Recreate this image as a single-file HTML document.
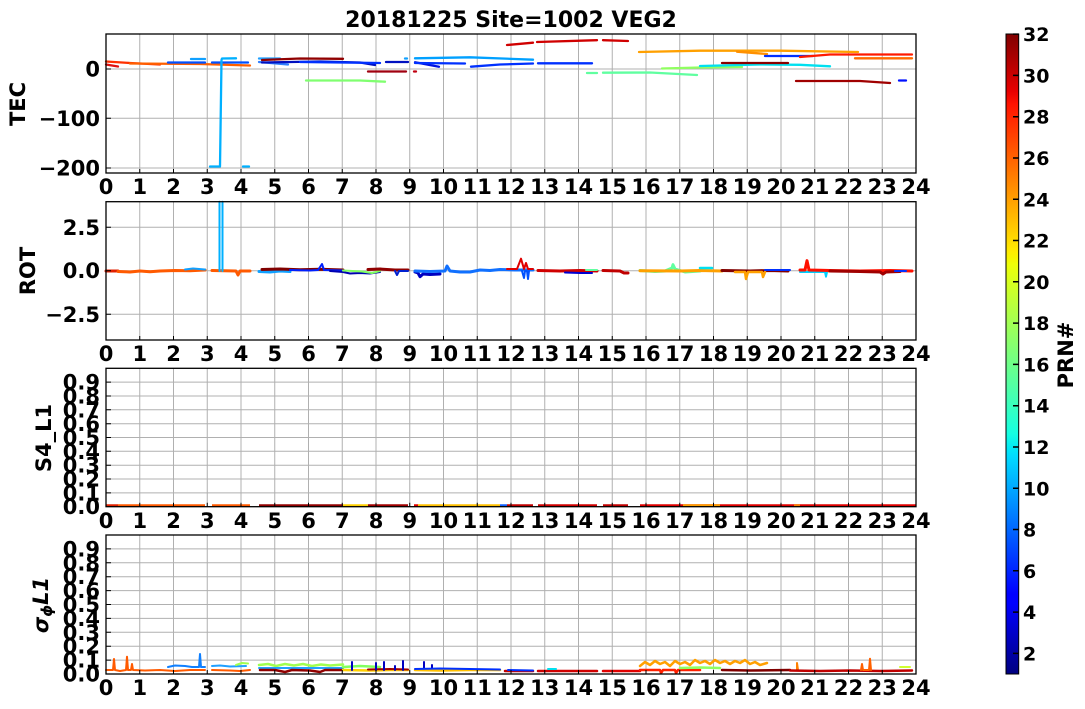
<!DOCTYPE html>
<html>
<head>
<meta charset="utf-8">
<style>
html,body{margin:0;padding:0;background:#fff;}
svg{display:block;}
text{font-family:"DejaVu Sans","Liberation Sans",sans-serif;font-weight:bold;fill:#000;}
</style>
</head>
<body>
<svg width="1085" height="709" viewBox="0 0 1085 709" xmlns="http://www.w3.org/2000/svg">
<defs>
<linearGradient id="jet" x1="0" y1="1" x2="0" y2="0">
<stop offset="0" stop-color="#000080"/>
<stop offset="0.11" stop-color="#0000ff"/>
<stop offset="0.125" stop-color="#0000ff"/>
<stop offset="0.34" stop-color="#00dbff"/>
<stop offset="0.35" stop-color="#00e6f8"/>
<stop offset="0.375" stop-color="#14ffe2"/>
<stop offset="0.64" stop-color="#eeff08"/>
<stop offset="0.65" stop-color="#f7f500"/>
<stop offset="0.66" stop-color="#ffec00"/>
<stop offset="0.89" stop-color="#ff1300"/>
<stop offset="0.91" stop-color="#e80000"/>
<stop offset="1" stop-color="#800000"/>
</linearGradient>
</defs>
<rect width="1085" height="709" fill="#fff"/>

<!-- Title -->
<text x="511" y="27" font-size="22" text-anchor="middle">20181225 Site=1002 VEG2</text>

<!-- ================= PANEL 1: TEC ================= -->
<g stroke="#b0b0b0" stroke-width="1">
<path d="M139.75,34V173M173.5,34V173M207.25,34V173M241,34V173M274.75,34V173M308.5,34V173M342.25,34V173M376,34V173M409.75,34V173M443.5,34V173M477.25,34V173M511,34V173M544.75,34V173M578.5,34V173M612.25,34V173M646,34V173M679.75,34V173M713.5,34V173M747.25,34V173M781,34V173M814.75,34V173M848.5,34V173M882.25,34V173"/>
<path d="M106,69H916M106,118.3H916M106,168H916"/>
</g>
<g fill="none" stroke-linecap="round" stroke-linejoin="round" stroke-width="2.3">
<polyline stroke="#ff3000" points="106,61.5 130,63 160,64.5"/>
<polyline stroke="#ff6000" points="130,63.5 200,64 250,65.5"/>
<polyline stroke="#e01010" points="106,64.5 118,66.5"/>
<polyline stroke="#0050ff" points="168,62.5 205,62.5"/>
<polyline stroke="#0050ff" points="212,62.5 248,62.5"/>
<polyline stroke="#10a0ff" points="191,59 205,59"/>
<polyline stroke="#00b0ff" points="210,166.5 220,166.5 221.5,60 222,58.5 236,58.3"/>
<polyline stroke="#00b0ff" points="243,166.5 249,166.5"/>
<polyline stroke="#20a0ff" points="259,58.5 280,58.5"/>
<polyline stroke="#3080ff" points="259,62 288,64.5"/>
<polyline stroke="#900000" points="262,60 300,58.5 343,58.8"/>
<polyline stroke="#0010c0" points="262,62.5 320,61.5 360,62.5 375,65"/>
<polyline stroke="#0030ff" points="300,62 340,62.5 380,63"/>
<polyline stroke="#0010c0" points="386,62 408,62"/>
<polyline stroke="#80ff70" points="306,80.5 360,80.5 385,81.7"/>
<polyline stroke="#a00010" points="368,71.5 406,71.5"/>
<polyline stroke="#c00010" points="414,71.5 416,71.5"/>
<polyline stroke="#10a0ff" points="405,58.5 407,58.5"/>
<polyline stroke="#00a0ff" points="415,58.3 470,57.3 533,59.7"/>
<polyline stroke="#0010e0" points="415,62.3 439,66.7"/>
<polyline stroke="#0030ff" points="415,63 465,63.5"/>
<polyline stroke="#0030ff" points="471,66.7 500,64.5 533,63.5"/>
<polyline stroke="#0030ff" points="538,63.3 592,63.3"/>
<polyline stroke="#d00000" points="507,45 533,42.7"/>
<polyline stroke="#d00000" points="537,42 597,40.2"/>
<polyline stroke="#d00000" points="603,40.2 628,41"/>
<polyline stroke="#60ffa0" points="587,73 597,73"/>
<polyline stroke="#60ffa0" points="603,72.7 650,72.5 697,75"/>
<polyline stroke="#90ff60" points="662,68.5 700,67.5 742,67"/>
<polyline stroke="#00e0f0" points="700,66 760,64.5 800,64.8 830,66.3"/>
<polyline stroke="#ffa000" points="639,52 700,50.7 780,50.7 858,52"/>
<polyline stroke="#ff9000" points="737,51.7 767,54"/>
<polyline stroke="#8a0000" points="722,63 788,63"/>
<polyline stroke="#0030ff" points="765,56 813,56"/>
<polyline stroke="#ff1a00" points="800,57 830,54.5 912,54.5"/>
<polyline stroke="#ff6a00" points="855,58.3 912,58.3"/>
<polyline stroke="#a00000" points="796,81 860,81 890,83"/>
<polyline stroke="#0010ff" points="899,80.5 906,80.5"/>
</g>
<g stroke="#000" stroke-width="1">
<path d="M139.75,173v-4M173.5,173v-4M207.25,173v-4M241,173v-4M274.75,173v-4M308.5,173v-4M342.25,173v-4M376,173v-4M409.75,173v-4M443.5,173v-4M477.25,173v-4M511,173v-4M544.75,173v-4M578.5,173v-4M612.25,173v-4M646,173v-4M679.75,173v-4M713.5,173v-4M747.25,173v-4M781,173v-4M814.75,173v-4M848.5,173v-4M882.25,173v-4"/>
<path d="M106,69h5M106,118.3h5M106,168h5"/>
</g>
<rect x="106" y="34" width="810" height="139" fill="none" stroke="#000" stroke-width="1.3"/>
<g font-size="21" text-anchor="end">
<text x="100" y="76.5">0</text>
<text x="100" y="125.8">−100</text>
<text x="100" y="175.5">−200</text>
</g>
<g font-size="21" text-anchor="middle">
<text x="106" y="194">0</text><text x="139.75" y="194">1</text><text x="173.5" y="194">2</text><text x="207.25" y="194">3</text><text x="241" y="194">4</text><text x="274.75" y="194">5</text><text x="308.5" y="194">6</text><text x="342.25" y="194">7</text><text x="376" y="194">8</text><text x="409.75" y="194">9</text><text x="443.5" y="194">10</text><text x="477.25" y="194">11</text><text x="511" y="194">12</text><text x="544.75" y="194">13</text><text x="578.5" y="194">14</text><text x="612.25" y="194">15</text><text x="646" y="194">16</text><text x="679.75" y="194">17</text><text x="713.5" y="194">18</text><text x="747.25" y="194">19</text><text x="781" y="194">20</text><text x="814.75" y="194">21</text><text x="848.5" y="194">22</text><text x="882.25" y="194">23</text><text x="916" y="194">24</text>
</g>
<text transform="translate(25,104) rotate(-90)" font-size="21" text-anchor="middle">TEC</text>

<!-- ================= PANEL 2: ROT ================= -->
<g stroke="#b0b0b0" stroke-width="1">
<path d="M139.75,201.7V340M173.5,201.7V340M207.25,201.7V340M241,201.7V340M274.75,201.7V340M308.5,201.7V340M342.25,201.7V340M376,201.7V340M409.75,201.7V340M443.5,201.7V340M477.25,201.7V340M511,201.7V340M544.75,201.7V340M578.5,201.7V340M612.25,201.7V340M646,201.7V340M679.75,201.7V340M713.5,201.7V340M747.25,201.7V340M781,201.7V340M814.75,201.7V340M848.5,201.7V340M882.25,201.7V340"/>
<path d="M106,227.3H916M106,270.7H916M106,314.3H916"/>
</g>
<g fill="none" stroke-linecap="round" stroke-linejoin="round">
<polyline stroke="#e02000" stroke-width="3" points="106,271 118,271"/>
<polyline stroke="#ff5a00" stroke-width="3" points="118,271.5 130,272 140,271 150,271.8 160,271 175,270.5 190,270.8 205,270"/>
<polyline stroke="#10a0ff" stroke-width="2" points="185,269.5 193,268.5 205,269.5"/>
<polyline stroke="#ff5a00" stroke-width="3" points="212,270.5 236,271 238,275 240,271 250,271"/>
<polyline stroke="#00b0ff" stroke-width="2" points="219.5,271 219.5,201.7"/>
<polyline stroke="#00b0ff" stroke-width="2" points="222.5,271 222.5,201.7"/>
<polyline stroke="#10a0ff" stroke-width="3" points="259,271.5 270,272 280,271 290,271.5"/>
<polyline stroke="#800000" stroke-width="3" points="262,269.5 280,269 300,269.8 320,269.2 343,270"/>
<polyline stroke="#0020ff" stroke-width="2" points="290,270 310,270.5 318,270 322,264 324,270 343,270.5"/>
<polyline stroke="#0000b0" stroke-width="2" points="330,271 343,272 350,273.5 360,273 370,273.5 380,272"/>
<polyline stroke="#80ff60" stroke-width="2" points="343,270.5 362,271.5 372,273 380,271"/>
<polyline stroke="#900000" stroke-width="3" points="368,269.5 380,269 395,270 408,270"/>
<polyline stroke="#0020d0" stroke-width="2" points="395,271 397,275 399,271 408,271"/>
<polyline stroke="#0000c0" stroke-width="3" points="415,272 418,273 420,276.7 423,274 430,274.5 440,274"/>
<polyline stroke="#1070ff" stroke-width="3" points="415,271 430,271.5 445,271 447,266 450,271 460,272 470,272 480,270 490,270.5 500,269.5 515,270 533,270"/>
<polyline stroke="#0050ff" stroke-width="2" points="522,271 524,278 525,271 527,271 528,279 529,271"/>
<polyline stroke="#e00000" stroke-width="2" points="507,269 517,269 521,258.7 524,269 526,263 528,269 533,269"/>
<polyline stroke="#d00000" stroke-width="3" points="538,270.5 560,271 580,270.5 597,271"/>
<polyline stroke="#0000d0" stroke-width="2" points="565,272.5 580,273 592,273"/>
<polyline stroke="#60ffa0" stroke-width="2" points="586,270 597,270"/>
<polyline stroke="#c00000" stroke-width="3" points="603,270.5 620,271 624,273 628,273"/>
<polyline stroke="#60ffa0" stroke-width="3" points="640,270.5 655,271.5 665,271 672,268 673,264.7 675,269 685,272 700,271"/>
<polyline stroke="#ffa000" stroke-width="3" points="640,270.7 680,271 700,270.5 722,271"/>
<polyline stroke="#00e0f0" stroke-width="2.5" points="700,268 712,268"/>
<polyline stroke="#800000" stroke-width="3" points="722,270.5 750,271 770,270.5 788,271"/>
<polyline stroke="#ffa000" stroke-width="2.5" points="735,272 745,272 746,279 748,272 762,272 763,277 765,272"/>
<polyline stroke="#0030ff" stroke-width="2" points="765,270 790,270"/>
<polyline stroke="#ff8000" stroke-width="2" points="800,271.5 860,271.5"/>
<polyline stroke="#00d0ff" stroke-width="2" points="800,272 825,272 826,276.7 827,272"/>
<polyline stroke="#ff1000" stroke-width="3" points="800,270 805,270 807,260.7 809,270 830,270.5 860,271 890,270.5 912,271"/>
<polyline stroke="#a00000" stroke-width="3" points="830,271 860,271.5 880,272 883,274 886,272 900,271.5"/>
<polyline stroke="#0030ff" stroke-width="2" points="895,271 906,271"/>
</g>
<g stroke="#000" stroke-width="1">
<path d="M139.75,340v-4M173.5,340v-4M207.25,340v-4M241,340v-4M274.75,340v-4M308.5,340v-4M342.25,340v-4M376,340v-4M409.75,340v-4M443.5,340v-4M477.25,340v-4M511,340v-4M544.75,340v-4M578.5,340v-4M612.25,340v-4M646,340v-4M679.75,340v-4M713.5,340v-4M747.25,340v-4M781,340v-4M814.75,340v-4M848.5,340v-4M882.25,340v-4"/>
<path d="M106,227.3h5M106,270.7h5M106,314.3h5"/>
</g>
<rect x="106" y="201.7" width="810" height="138.3" fill="none" stroke="#000" stroke-width="1.3"/>
<g font-size="21" text-anchor="end">
<text x="100" y="234.8">2.5</text>
<text x="100" y="278.2">0.0</text>
<text x="100" y="321.8">−2.5</text>
</g>
<g font-size="21" text-anchor="middle">
<text x="106" y="361">0</text><text x="139.75" y="361">1</text><text x="173.5" y="361">2</text><text x="207.25" y="361">3</text><text x="241" y="361">4</text><text x="274.75" y="361">5</text><text x="308.5" y="361">6</text><text x="342.25" y="361">7</text><text x="376" y="361">8</text><text x="409.75" y="361">9</text><text x="443.5" y="361">10</text><text x="477.25" y="361">11</text><text x="511" y="361">12</text><text x="544.75" y="361">13</text><text x="578.5" y="361">14</text><text x="612.25" y="361">15</text><text x="646" y="361">16</text><text x="679.75" y="361">17</text><text x="713.5" y="361">18</text><text x="747.25" y="361">19</text><text x="781" y="361">20</text><text x="814.75" y="361">21</text><text x="848.5" y="361">22</text><text x="882.25" y="361">23</text><text x="916" y="361">24</text>
</g>
<text transform="translate(35,271) rotate(-90)" font-size="21" text-anchor="middle">ROT</text>

<!-- ================= PANEL 3: S4_L1 ================= -->
<g stroke="#b0b0b0" stroke-width="1">
<path d="M139.75,368.3V506.7M173.5,368.3V506.7M207.25,368.3V506.7M241,368.3V506.7M274.75,368.3V506.7M308.5,368.3V506.7M342.25,368.3V506.7M376,368.3V506.7M409.75,368.3V506.7M443.5,368.3V506.7M477.25,368.3V506.7M511,368.3V506.7M544.75,368.3V506.7M578.5,368.3V506.7M612.25,368.3V506.7M646,368.3V506.7M679.75,368.3V506.7M713.5,368.3V506.7M747.25,368.3V506.7M781,368.3V506.7M814.75,368.3V506.7M848.5,368.3V506.7M882.25,368.3V506.7"/>
<path d="M106,492.9H916M106,479H916M106,465.2H916M106,451.3H916M106,437.5H916M106,423.7H916M106,409.8H916M106,396H916M106,382.1H916"/>
</g>
<g fill="none" stroke-width="2.5">
<path stroke="#e02000" d="M106,505.5H118"/>
<path stroke="#ff5a00" d="M118,505.5H205M212,505.5H250"/>
<path stroke="#900000" d="M259,505.5H343"/>
<path stroke="#ffd000" d="M343,505.5H368"/>
<path stroke="#a00000" d="M368,505.5H408"/>
<path stroke="#e00000" d="M414,505.5H418"/>
<path stroke="#ffc000" d="M418,505.5H500"/>
<path stroke="#1060ff" d="M500,505.5H507"/>
<path stroke="#c00000" d="M507,505.5H533"/>
<path stroke="#d00000" d="M538,505.5H597"/>
<path stroke="#c00000" d="M603,505.5H628"/>
<path stroke="#e00000" d="M640,505.5H916"/>
<path stroke="#ffa000" d="M683,505.5H720"/>
<path stroke="#ff8000" d="M794,505.5H800"/>
</g>
<g stroke="#000" stroke-width="1">
<path d="M139.75,506.7v-4M173.5,506.7v-4M207.25,506.7v-4M241,506.7v-4M274.75,506.7v-4M308.5,506.7v-4M342.25,506.7v-4M376,506.7v-4M409.75,506.7v-4M443.5,506.7v-4M477.25,506.7v-4M511,506.7v-4M544.75,506.7v-4M578.5,506.7v-4M612.25,506.7v-4M646,506.7v-4M679.75,506.7v-4M713.5,506.7v-4M747.25,506.7v-4M781,506.7v-4M814.75,506.7v-4M848.5,506.7v-4M882.25,506.7v-4"/>
<path d="M106,492.9h5M106,479h5M106,465.2h5M106,451.3h5M106,437.5h5M106,423.7h5M106,409.8h5M106,396h5M106,382.1h5"/>
</g>
<rect x="106" y="368.3" width="810" height="138.4" fill="none" stroke="#000" stroke-width="1.3"/>
<g font-size="21" text-anchor="end">
<text x="100" y="514.2">0.0</text>
<text x="100" y="500.4">0.1</text>
<text x="100" y="486.5">0.2</text>
<text x="100" y="472.7">0.3</text>
<text x="100" y="458.8">0.4</text>
<text x="100" y="445">0.5</text>
<text x="100" y="431.2">0.6</text>
<text x="100" y="417.3">0.7</text>
<text x="100" y="403.5">0.8</text>
<text x="100" y="389.6">0.9</text>
</g>
<g font-size="21" text-anchor="middle">
<text x="106" y="528">0</text><text x="139.75" y="528">1</text><text x="173.5" y="528">2</text><text x="207.25" y="528">3</text><text x="241" y="528">4</text><text x="274.75" y="528">5</text><text x="308.5" y="528">6</text><text x="342.25" y="528">7</text><text x="376" y="528">8</text><text x="409.75" y="528">9</text><text x="443.5" y="528">10</text><text x="477.25" y="528">11</text><text x="511" y="528">12</text><text x="544.75" y="528">13</text><text x="578.5" y="528">14</text><text x="612.25" y="528">15</text><text x="646" y="528">16</text><text x="679.75" y="528">17</text><text x="713.5" y="528">18</text><text x="747.25" y="528">19</text><text x="781" y="528">20</text><text x="814.75" y="528">21</text><text x="848.5" y="528">22</text><text x="882.25" y="528">23</text><text x="916" y="528">24</text>
</g>
<text transform="translate(51,438) rotate(-90)" font-size="21" text-anchor="middle">S4_L1</text>

<!-- ================= PANEL 4: sigma_phi L1 ================= -->
<g stroke="#b0b0b0" stroke-width="1">
<path d="M139.75,535V674M173.5,535V674M207.25,535V674M241,535V674M274.75,535V674M308.5,535V674M342.25,535V674M376,535V674M409.75,535V674M443.5,535V674M477.25,535V674M511,535V674M544.75,535V674M578.5,535V674M612.25,535V674M646,535V674M679.75,535V674M713.5,535V674M747.25,535V674M781,535V674M814.75,535V674M848.5,535V674M882.25,535V674"/>
<path d="M106,660.1H916M106,646.2H916M106,632.3H916M106,618.4H916M106,604.5H916M106,590.6H916M106,576.7H916M106,562.8H916M106,548.9H916"/>
</g>
<g fill="none" stroke-linecap="round" stroke-linejoin="round" stroke-width="2">
<polyline stroke="#1080ff" points="168,667 175,665.5 185,666 192,667 199,667 200,654 201,667 205,667"/>
<polyline stroke="#ff5a00" points="106,670 113,670 114,659 115,670 120,671 126,670 127,656.7 128,670 131,670 132,664 133,670 145,670.5 160,670 175,671 190,670 205,670"/>
<polyline stroke="#20a0ff" points="212,666 220,665.5 230,666.5 246,666"/>
<polyline stroke="#a0ff50" points="236,665 242,663 248,663.5"/>
<polyline stroke="#ff5a00" points="212,670 230,670.5 240,671 250,670"/>
<polyline stroke="#a0ff50" stroke-width="2.5" points="259,665 268,664 276,666 285,664 294,665.5 303,664 312,666 321,664.5 330,665.5 343,664.5"/>
<polyline stroke="#20a0ff" points="259,668 300,668 343,668"/>
<polyline stroke="#900000" stroke-width="2.5" points="260,670 275,670 285,672 292,670 310,670.5 320,672 325,670 343,670"/>
<polyline stroke="#80ff60" stroke-width="2.5" points="343,667 360,666 380,667"/>
<polyline stroke="#ffd000" stroke-width="2.5" points="343,670 370,670.5 390,670 408,670"/>
<polyline stroke="#a00000" points="368,669.5 390,669 408,669.5"/>
<path stroke="#0000c0" d="M352,670V662M376,670V663M384,670V662M395,670V666M403,670V661M424,670V662M432,670V665"/>
<polyline stroke="#ffc000" stroke-width="2.5" points="415,670 440,670.5 470,670 500,670"/>
<polyline stroke="#0030ff" points="415,669 440,668.5 470,669 500,669.5"/>
<polyline stroke="#c00000" stroke-width="2.5" points="505,671 520,671 533,671"/>
<polyline stroke="#0030ff" points="508,670 533,670.5"/>
<polyline stroke="#d00000" stroke-width="2.5" points="538,671 597,671"/>
<polyline stroke="#00e0f0" points="548,669 556,669"/>
<polyline stroke="#e00000" stroke-width="2.5" points="603,671 640,671"/>
<polyline stroke="#ffa000" stroke-width="2.5" points="640,666 645,662 650,665 655,661 660,664 665,662 670,666 675,661 680,664 685,662 690,665 695,660 700,663 705,661 710,664 715,660 720,663 725,661 730,664 735,661 740,663 745,660 750,664 755,662 760,665 767,663"/>
<polyline stroke="#ff2000" stroke-width="2.5" points="640,670 660,670 661,673 663,670 675,670 676,673 678,670 700,670"/>
<polyline stroke="#90ff60" stroke-width="2.5" points="680,668 700,667.5 720,668"/>
<polyline stroke="#800000" stroke-width="2.5" points="722,670 750,670.5 790,670"/>
<polyline stroke="#ff8000" points="797,670 797,663 798,670"/>
<polyline stroke="#c00000" stroke-width="2.5" points="790,670.5 820,671 850,670.5 880,671 912,670.5"/>
<polyline stroke="#ff6000" points="861,670 862,664 863,670 869,670 870,658.7 871,670"/>
<polyline stroke="#d0ff30" points="900,667 910,667"/>
</g>
<g stroke="#000" stroke-width="1">
<path d="M139.75,674v-4M173.5,674v-4M207.25,674v-4M241,674v-4M274.75,674v-4M308.5,674v-4M342.25,674v-4M376,674v-4M409.75,674v-4M443.5,674v-4M477.25,674v-4M511,674v-4M544.75,674v-4M578.5,674v-4M612.25,674v-4M646,674v-4M679.75,674v-4M713.5,674v-4M747.25,674v-4M781,674v-4M814.75,674v-4M848.5,674v-4M882.25,674v-4"/>
<path d="M106,660.1h5M106,646.2h5M106,632.3h5M106,618.4h5M106,604.5h5M106,590.6h5M106,576.7h5M106,562.8h5M106,548.9h5"/>
</g>
<rect x="106" y="535" width="810" height="139" fill="none" stroke="#000" stroke-width="1.3"/>
<g font-size="21" text-anchor="end">
<text x="100" y="681.5">0.0</text>
<text x="100" y="667.6">0.1</text>
<text x="100" y="653.7">0.2</text>
<text x="100" y="639.8">0.3</text>
<text x="100" y="625.9">0.4</text>
<text x="100" y="612">0.5</text>
<text x="100" y="598.1">0.6</text>
<text x="100" y="584.2">0.7</text>
<text x="100" y="570.3">0.8</text>
<text x="100" y="556.4">0.9</text>
</g>
<g font-size="21" text-anchor="middle">
<text x="106" y="695">0</text><text x="139.75" y="695">1</text><text x="173.5" y="695">2</text><text x="207.25" y="695">3</text><text x="241" y="695">4</text><text x="274.75" y="695">5</text><text x="308.5" y="695">6</text><text x="342.25" y="695">7</text><text x="376" y="695">8</text><text x="409.75" y="695">9</text><text x="443.5" y="695">10</text><text x="477.25" y="695">11</text><text x="511" y="695">12</text><text x="544.75" y="695">13</text><text x="578.5" y="695">14</text><text x="612.25" y="695">15</text><text x="646" y="695">16</text><text x="679.75" y="695">17</text><text x="713.5" y="695">18</text><text x="747.25" y="695">19</text><text x="781" y="695">20</text><text x="814.75" y="695">21</text><text x="848.5" y="695">22</text><text x="882.25" y="695">23</text><text x="916" y="695">24</text>
</g>
<text transform="translate(48,605) rotate(-90)" font-size="21" text-anchor="middle" font-style="italic"><tspan>σ</tspan><tspan font-size="15" dy="4">ϕ</tspan><tspan dy="-4">L1</tspan></text>

<!-- ================= COLORBAR ================= -->
<rect x="1006" y="34" width="12.7" height="640" fill="url(#jet)" stroke="#000" stroke-width="1"/>
<g stroke="#000" stroke-width="1.5">
<path d="M1013,653.4h5.7M1013,612.1h5.7M1013,570.8h5.7M1013,529.5h5.7M1013,488.3h5.7M1013,447h5.7M1013,405.7h5.7M1013,364.4h5.7M1013,323.1h5.7M1013,281.8h5.7M1013,240.5h5.7M1013,199.3h5.7M1013,158h5.7M1013,116.7h5.7M1013,75.4h5.7M1013,34.1h5.7"/>
</g>
<g font-size="19">
<text x="1023" y="660.4">2</text>
<text x="1023" y="619.1">4</text>
<text x="1023" y="577.8">6</text>
<text x="1023" y="536.5">8</text>
<text x="1023" y="495.3">10</text>
<text x="1023" y="454">12</text>
<text x="1023" y="412.7">14</text>
<text x="1023" y="371.4">16</text>
<text x="1023" y="330.1">18</text>
<text x="1023" y="288.8">20</text>
<text x="1023" y="247.5">22</text>
<text x="1023" y="206.3">24</text>
<text x="1023" y="165">26</text>
<text x="1023" y="123.7">28</text>
<text x="1023" y="82.4">30</text>
<text x="1023" y="41.1">32</text>
</g>
<text transform="translate(1073,355) rotate(-90)" font-size="21" text-anchor="middle">PRN#</text>
</svg>
</body>
</html>
